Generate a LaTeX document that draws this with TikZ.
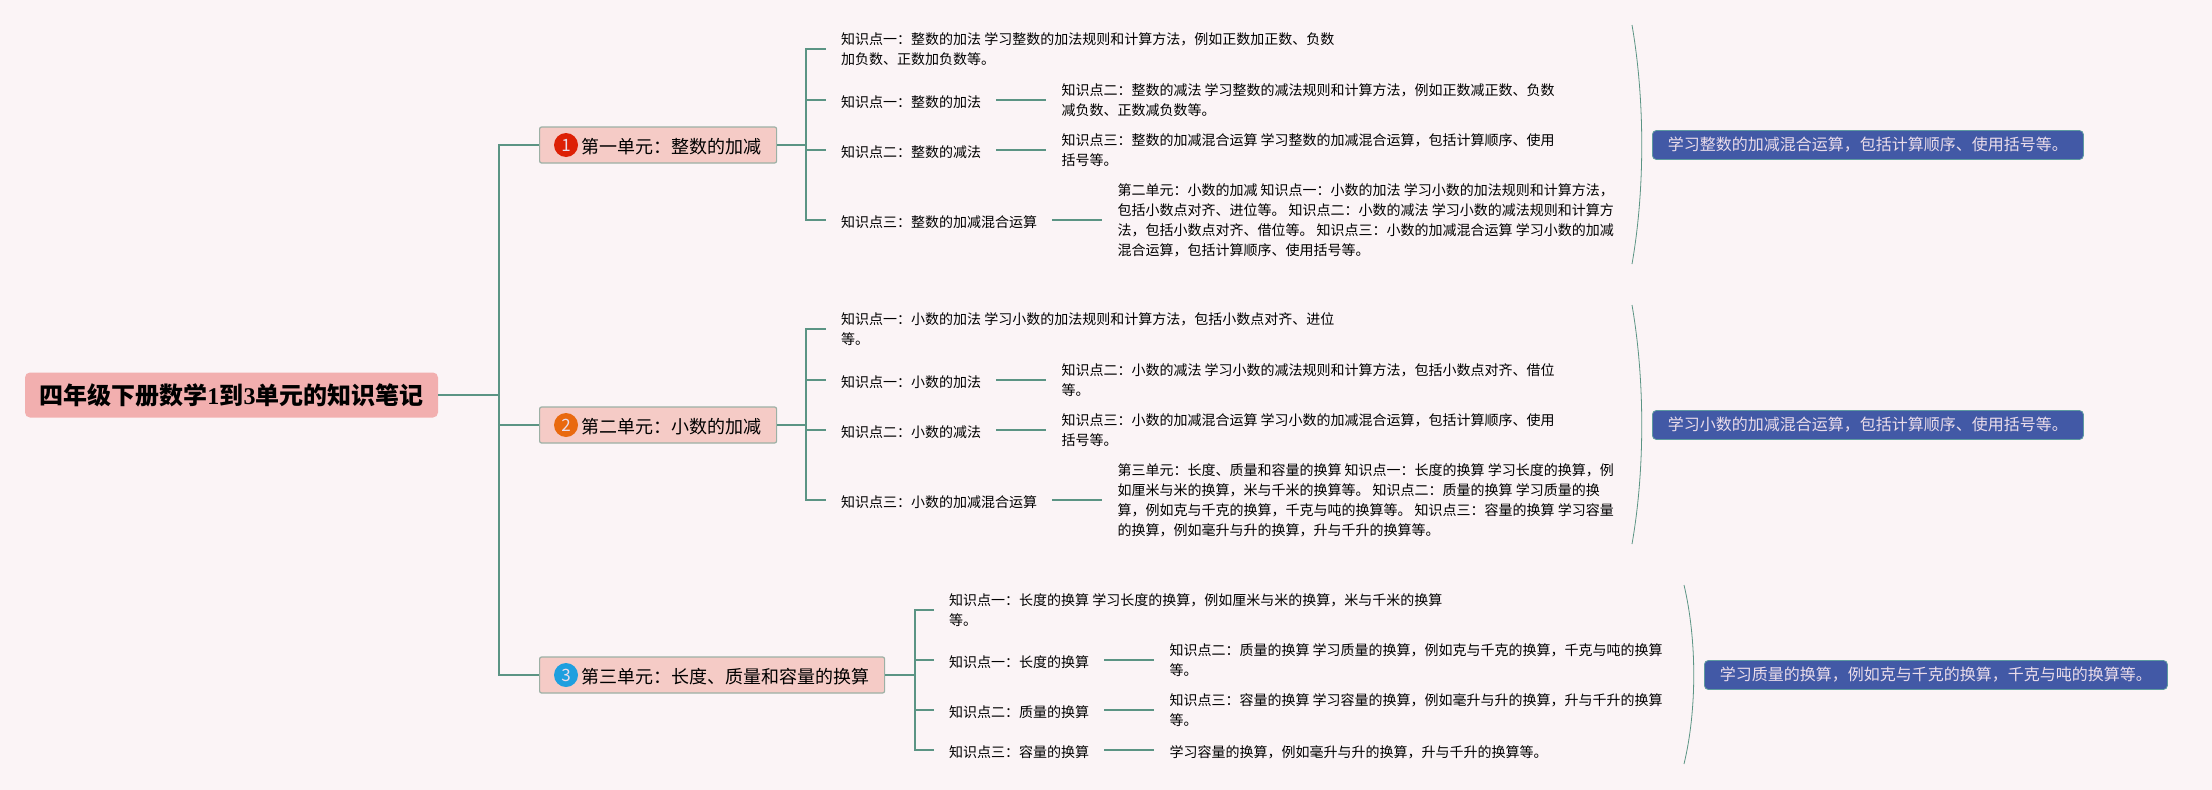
\documentclass[tikz,border=0pt]{standalone}
\usepackage{xcolor}
\usepackage{fontspec}
\setmainfont{Noto Sans CJK SC}
\newfontfamily\digitfont{Liberation Serif}
\usepackage{tikz}
\usetikzlibrary{positioning}

\definecolor{paper}{HTML}{FBF4F6}
\definecolor{branch}{HTML}{5B9484}
\definecolor{rootfill}{HTML}{F2AFAF}
\definecolor{unitfill}{HTML}{F5CBC6}
\definecolor{unitline}{HTML}{9CB0A5}
\definecolor{notefill}{HTML}{4259A6}
\definecolor{noteline}{HTML}{5D9AA0}
\definecolor{notetext}{HTML}{EADCEA}
\definecolor{badgeone}{HTML}{DD2005}
\definecolor{badgetwo}{HTML}{E9690F}
\definecolor{badgethree}{HTML}{1E9FDF}

% full width colon and comma
\newcommand{\zcolon}{\char"FF1A\relax}
\newcommand{\zcomma}{\char"FF0C\relax}

\tikzset{
	conn/.style={draw=branch, line width=1.5},
	arcline/.style={draw=branch, line width=0.8},
	rootbox/.style={fill=rootfill, rounded corners=5, minimum width=413, minimum height=45, inner sep=0, font=\fontsize{24}{28}\selectfont\bfseries},
	unitbox/.style={fill=unitfill, draw=unitline, line width=1.2, rounded corners=2, anchor=west, minimum height=36, inner ysep=0, inner xsep=15, execute at begin node={\rule{0pt}{18pt}}, font=\fontsize{18}{22}\selectfont},
	badge/.style={circle, minimum size=24, inner sep=0, text=notetext, font=\fontsize{17}{18}\selectfont},
	rowbox/.style={anchor=west, align=left, inner xsep=15, inner ysep=0, font=\fontsize{14}{20}\selectfont},
	labelbox/.style={rowbox, execute at begin node={\rule{0pt}{15.5pt}}},
	detailbox/.style={rowbox, execute at begin node={\rule{0pt}{19.5pt}}},
	notebox/.style={fill=notefill, draw=noteline, line width=0.8, rounded corners=4, anchor=west, minimum height=29, inner ysep=0, inner xsep=15.5, text=notetext, font=\fontsize{16}{20}\selectfont},
}

\begin{document}
\begin{tikzpicture}[x=1pt, y=-1pt]

\fill[paper] (0,0) rectangle (2212,790);
\useasboundingbox (0,0) rectangle (2212,790);

\node[rootbox] (root) at (231.5,395) {四年级下册数学{\digitfont 1}到{\digitfont 3}单元的知识笔记};
\coordinate (trunk) at (499,395);

% unit 1
\def \c {0}
\node[unitbox] (unit1) at (539,\c+145) {\hspace{27pt}第一单元\zcolon 整数的加减};
\node[badge, fill=badgeone] (badge1) at (566,\c+145) {1};
\coordinate (fork1) at (806,\c+145);

\node[detailbox] (a1) at (826,\c+49) {知识点一\zcolon 整数的加法 学习整数的加法规则和计算方法\zcomma 例如正数加正数、负数\\加负数、正数加负数等。};
\node[labelbox] (a2) at (826,\c+100) {知识点一\zcolon 整数的加法};
\node[labelbox] (a3) at (826,\c+150) {知识点二\zcolon 整数的减法};
\node[labelbox] (a4) at (826,\c+220) {知识点三\zcolon 整数的加减混合运算};

\node[detailbox, right=50pt of a2] (b2) {知识点二\zcolon 整数的减法 学习整数的减法规则和计算方法\zcomma 例如正数减正数、负数\\减负数、正数减负数等。};
\node[detailbox, right=50pt of a3] (b3) {知识点三\zcolon 整数的加减混合运算 学习整数的加减混合运算\zcomma 包括计算顺序、使用\\括号等。};
\node[detailbox, right=50pt of a4] (b4) {第二单元\zcolon 小数的加减 知识点一\zcolon 小数的加法 学习小数的加法规则和计算方法\zcomma\\包括小数点对齐、进位等。 知识点二\zcolon 小数的减法 学习小数的减法规则和计算方\\法\zcomma 包括小数点对齐、借位等。 知识点三\zcolon 小数的加减混合运算 学习小数的加减\\混合运算\zcomma 包括计算顺序、使用括号等。};

\coordinate (top1) at (1632,\c+25);
\coordinate (low1) at (1632,\c+264);
\draw[arcline] (top1) .. controls (1645,\c+100) and (1645,\c+190) .. (low1);
\node[notebox] (note1) at (1652,\c+145) {学习整数的加减混合运算\zcomma 包括计算顺序、使用括号等。};

% unit 2
\def \c {280}
\node[unitbox] (unit2) at (539,\c+145) {\hspace{27pt}第二单元\zcolon 小数的加减};
\node[badge, fill=badgetwo] (badge2) at (566,\c+145) {2};
\coordinate (fork2) at (806,\c+145);

\node[detailbox] (c1) at (826,\c+49) {知识点一\zcolon 小数的加法 学习小数的加法规则和计算方法\zcomma 包括小数点对齐、进位\\等。};
\node[labelbox] (c2) at (826,\c+100) {知识点一\zcolon 小数的加法};
\node[labelbox] (c3) at (826,\c+150) {知识点二\zcolon 小数的减法};
\node[labelbox] (c4) at (826,\c+220) {知识点三\zcolon 小数的加减混合运算};

\node[detailbox, right=50pt of c2] (d2) {知识点二\zcolon 小数的减法 学习小数的减法规则和计算方法\zcomma 包括小数点对齐、借位\\等。};
\node[detailbox, right=50pt of c3] (d3) {知识点三\zcolon 小数的加减混合运算 学习小数的加减混合运算\zcomma 包括计算顺序、使用\\括号等。};
\node[detailbox, right=50pt of c4] (d4) {第三单元\zcolon 长度、质量和容量的换算 知识点一\zcolon 长度的换算 学习长度的换算\zcomma 例\\如厘米与米的换算\zcomma 米与千米的换算等。 知识点二\zcolon 质量的换算 学习质量的换\\算\zcomma 例如克与千克的换算\zcomma 千克与吨的换算等。 知识点三\zcolon 容量的换算 学习容量\\的换算\zcomma 例如毫升与升的换算\zcomma 升与千升的换算等。};

\coordinate (top2) at (1632,\c+25);
\coordinate (low2) at (1632,\c+264);
\draw[arcline] (top2) .. controls (1645,\c+100) and (1645,\c+190) .. (low2);
\node[notebox] (note2) at (1652,\c+145) {学习小数的加减混合运算\zcomma 包括计算顺序、使用括号等。};

% unit 3
\node[unitbox] (unit3) at (539,675) {\hspace{27pt}第三单元\zcolon 长度、质量和容量的换算};
\node[badge, fill=badgethree] (badge3) at (566,675) {3};
\coordinate (fork3) at (915,675);

\node[detailbox] (e1) at (934,610) {知识点一\zcolon 长度的换算 学习长度的换算\zcomma 例如厘米与米的换算\zcomma 米与千米的换算\\等。};
\node[labelbox] (e2) at (934,660) {知识点一\zcolon 长度的换算};
\node[labelbox] (e3) at (934,710) {知识点二\zcolon 质量的换算};
\node[labelbox] (e4) at (934,750) {知识点三\zcolon 容量的换算};

\node[detailbox, right=50pt of e2] (f2) {知识点二\zcolon 质量的换算 学习质量的换算\zcomma 例如克与千克的换算\zcomma 千克与吨的换算\\等。};
\node[detailbox, right=50pt of e3] (f3) {知识点三\zcolon 容量的换算 学习容量的换算\zcomma 例如毫升与升的换算\zcomma 升与千升的换算\\等。};
\node[labelbox, right=50pt of e4] (f4) {学习容量的换算\zcomma 例如毫升与升的换算\zcomma 升与千升的换算等。};

\coordinate (top3) at (1684,585);
\coordinate (low3) at (1684,764);
\draw[arcline] (top3) .. controls (1697,640) and (1697,710) .. (low3);
\node[notebox] (note3) at (1704,675) {学习质量的换算\zcomma 例如克与千克的换算\zcomma 千克与吨的换算等。};

% connectors
\draw[conn] (root.east)--(trunk);
\draw[conn] (trunk)|-(unit1.west);
\draw[conn] (trunk)|-(unit2.west);
\draw[conn] (trunk)|-(unit3.west);

\foreach \a in {1,...,4}{
	\draw[conn] (unit1.east)--(fork1)|-(a\a.west);
	\draw[conn] (unit2.east)--(fork2)|-(c\a.west);
	\draw[conn] (unit3.east)--(fork3)|-(e\a.west);
}

\foreach \a in {2,...,4}{
	\draw[conn] (a\a.east)--(b\a.west);
	\draw[conn] (c\a.east)--(d\a.west);
	\draw[conn] (e\a.east)--(f\a.west);
}

\end{tikzpicture}
\end{document}
